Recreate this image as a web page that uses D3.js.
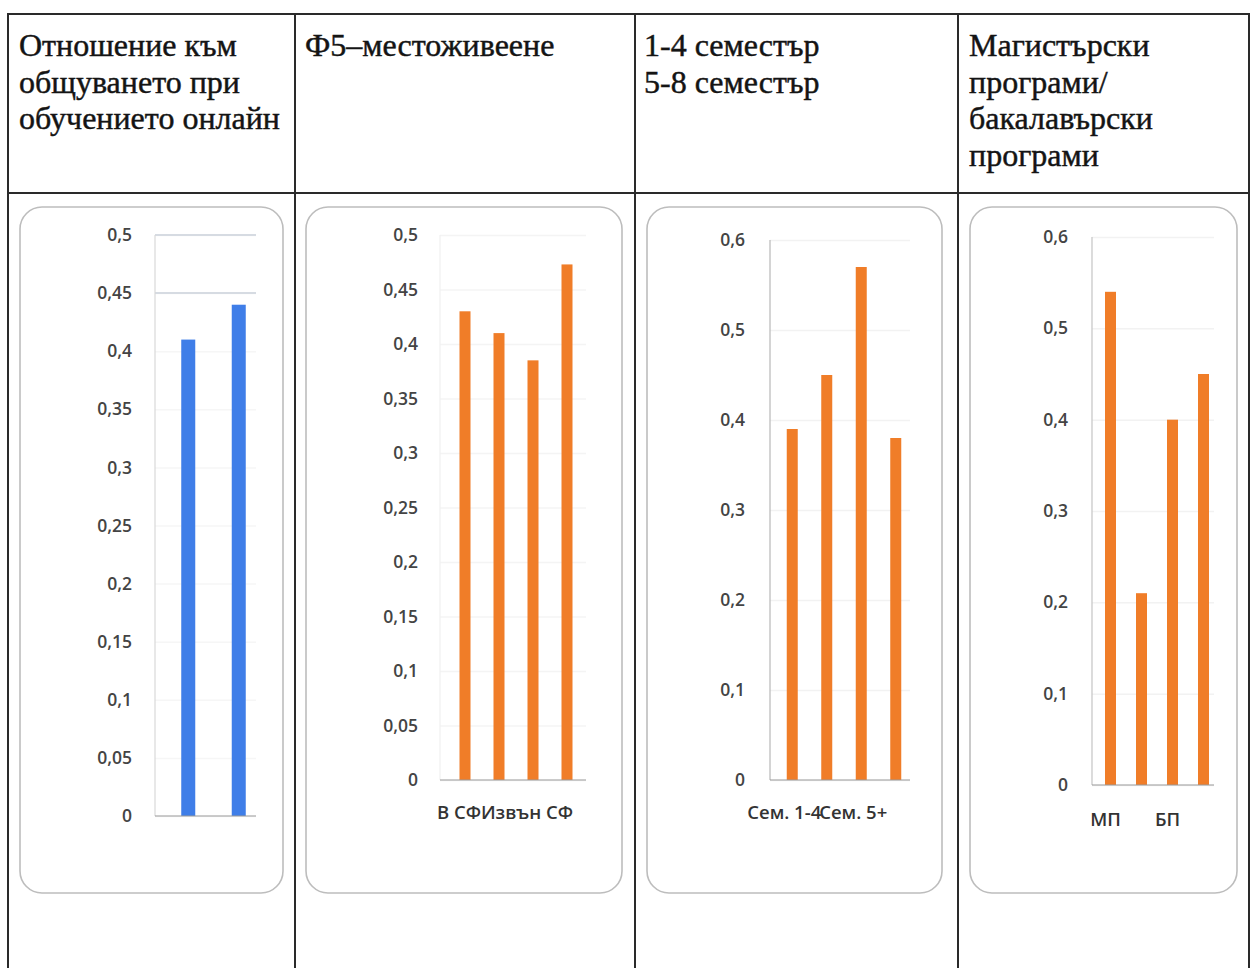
<!DOCTYPE html>
<html>
<head>
<meta charset="utf-8">
<script src="https://cdn.jsdelivr.net/npm/d3@7"></script>
<style>
  html, body { margin: 0; padding: 0; background: #fff; }
  svg { display: block; }
</style>
</head>
<body>
<svg id="chart" width="1251" height="968"></svg>
<script>
// ---------- DATA ----------
const headerCol1 = ["Отношение към", "общуването при", "обучението онлайн"];
const headerCol2 = ["Ф5–местоживеене"];
const headerCol3 = ["1-4 семестър", "5-8 семестър"];
const headerCol4 = ["Магистърски", "програми/", "бакалавърски", "програми"];

const chart1Categories = ["a", "b"];
const chart1Labels = ["", ""];
const chart1Values = [0.41, 0.44];
const chart1Ticks = [0, 0.05, 0.1, 0.15, 0.2, 0.25, 0.3, 0.35, 0.4, 0.45, 0.5];

const chart2Categories = ["a", "b", "c", "d"];
const chart2Labels = ["В СФ", "", "Извън СФ", ""];
const chart2Values = [0.43, 0.41, 0.385, 0.473];
const chart2Ticks = [0, 0.05, 0.1, 0.15, 0.2, 0.25, 0.3, 0.35, 0.4, 0.45, 0.5];

const chart3Categories = ["a", "b", "c", "d"];
const chart3Labels = ["Сем. 1-4", "", "Сем. 5+", ""];
const chart3Values = [0.39, 0.45, 0.57, 0.38];
const chart3Ticks = [0, 0.1, 0.2, 0.3, 0.4, 0.5, 0.6];

const chart4Categories = ["a", "b", "c", "d"];
const chart4Labels = ["МП", "", "БП", ""];
const chart4Values = [0.54, 0.21, 0.40, 0.45];
const chart4Ticks = [0, 0.1, 0.2, 0.3, 0.4, 0.5, 0.6];

// ---------- LAYOUT ----------
const svg = d3.select("#chart");
const W = 1251, H = 968;
const locale = d3.formatLocale({decimal: ",", thousands: " ", grouping: [3], currency: ["", ""]});
const fmt = locale.format("~g");

// table
const tableTop = 14, headerBottom = 193;
const colX = [8, 295, 635, 958, 1249];
const lineColor = "#2a2a2a";
svg.append("line").attr("x1", colX[0]).attr("x2", colX[4]).attr("y1", tableTop).attr("y2", tableTop)
  .attr("stroke", lineColor).attr("stroke-width", 2);
svg.append("line").attr("x1", colX[0]).attr("x2", colX[4]).attr("y1", headerBottom).attr("y2", headerBottom)
  .attr("stroke", lineColor).attr("stroke-width", 2);
colX.forEach(x => {
  svg.append("line").attr("x1", x).attr("x2", x).attr("y1", tableTop - 1).attr("y2", H)
    .attr("stroke", lineColor).attr("stroke-width", 2);
});

// header texts
const headers = [headerCol1, headerCol2, headerCol3, headerCol4];
const headerX = [19, 305, 644, 969];
headers.forEach((lines, i) => {
  const t = svg.append("text")
    .attr("x", headerX[i]).attr("y", 56)
    .attr("font-family", "'Liberation Serif', 'Times New Roman', serif")
    .attr("font-size", 32)
    .attr("fill", "#141414")
    .attr("stroke", "#141414").attr("stroke-width", 0.45);
  lines.forEach((ln, j) => {
    t.append("tspan").attr("x", headerX[i]).attr("dy", j === 0 ? 0 : 36.5).text(ln);
  });
});

// panels
const panels = [
  {x: 20, w: 263}, {x: 306, w: 316}, {x: 647, w: 295}, {x: 970, w: 267}
];
panels.forEach(p => {
  svg.append("rect").attr("x", p.x).attr("y", 207).attr("width", p.w).attr("height", 686)
    .attr("rx", 22).attr("ry", 22)
    .attr("fill", "#fff").attr("stroke", "#bdbdbd").attr("stroke-width", 1.6);
});

function drawChart(cfg) {
  const g = svg.append("g");
  const y = d3.scaleLinear().domain(cfg.domain).range([cfg.y0, cfg.y1]);
  const x = d3.scaleBand().domain(cfg.categories).range(cfg.barRange).paddingInner(0).paddingOuter(0);

  // faint gridlines
  g.append("g")
    .attr("transform", `translate(${cfg.frame[0]},0)`)
    .call(d3.axisLeft(y).tickValues(cfg.ticks).tickSize(-(cfg.frame[1] - cfg.frame[0])).tickFormat(""))
    .call(a => a.select(".domain").remove())
    .call(a => a.selectAll("line").attr("stroke", cfg.gridColor).attr("stroke-width", 1.5));

  // emphasised faint lines
  (cfg.strongGrid || []).forEach(v => {
    g.append("line").attr("x1", cfg.frame[0]).attr("x2", cfg.frame[1])
      .attr("y1", y(v)).attr("y2", y(v))
      .attr("stroke", "#d6dbe2").attr("stroke-width", 2);
  });

  // left axis line
  g.append("line").attr("x1", cfg.frame[0]).attr("x2", cfg.frame[0])
    .attr("y1", y(cfg.domain[1])).attr("y2", y(0))
    .attr("stroke", cfg.leftAxisColor).attr("stroke-width", 1.2);

  // y axis labels
  g.append("g")
    .attr("transform", `translate(${cfg.labelX},0)`)
    .call(d3.axisLeft(y).tickValues(cfg.ticks).tickSize(0).tickPadding(0).tickFormat(fmt))
    .call(a => a.select(".domain").remove())
    .call(a => a.selectAll("text")
      .attr("font-family", "'Open Sans', 'DejaVu Sans', sans-serif")
      .attr("font-size", 17.5).attr("font-weight", 600).attr("fill", "#444"));

  // bars
  g.selectAll("rect.bar").data(cfg.values).join("rect")
    .attr("class", "bar")
    .attr("x", (d, i) => x(cfg.categories[i]) + x.bandwidth() / 2 - cfg.barWidth / 2)
    .attr("width", cfg.barWidth)
    .attr("y", d => y(d))
    .attr("height", d => y(0) - y(d))
    .attr("fill", cfg.color);

  // baseline
  g.append("line").attr("x1", cfg.frame[0]).attr("x2", cfg.frame[1])
    .attr("y1", y(0)).attr("y2", y(0))
    .attr("stroke", "#9a9a9a").attr("stroke-width", 1.2);

  // x labels
  g.selectAll("text.xl").data(cfg.labels).join("text")
    .attr("class", "xl")
    .attr("x", (d, i) => x(cfg.categories[i]) + x.bandwidth() / 2 + cfg.xLabelDx)
    .attr("y", y(0) + cfg.xLabelDy)
    .attr("text-anchor", "middle")
    .attr("font-family", "'Open Sans', 'DejaVu Sans', sans-serif")
    .attr("font-size", 18.5).attr("font-weight", 600).attr("fill", "#333")
    .text(d => d);
}

drawChart({
  categories: chart1Categories, labels: chart1Labels, values: chart1Values, ticks: chart1Ticks,
  domain: [0, 0.5], y0: 816, y1: 235, frame: [155, 256], barRange: [163, 264], barWidth: 14,
  labelX: 132, color: "#3f7ee8", gridColor: "#f6f6f6", strongGrid: [0.45, 0.5],
  leftAxisColor: "#d9d9d9", xLabelDy: 38, xLabelDx: -5
});
drawChart({
  categories: chart2Categories, labels: chart2Labels, values: chart2Values, ticks: chart2Ticks,
  domain: [0, 0.5], y0: 780, y1: 235, frame: [440, 586], barRange: [448, 584], barWidth: 11,
  labelX: 418, color: "#f07d28", gridColor: "#f4f4f4", strongGrid: [],
  leftAxisColor: "#f0f0f0", xLabelDy: 39, xLabelDx: -6
});
drawChart({
  categories: chart3Categories, labels: chart3Labels, values: chart3Values, ticks: chart3Ticks,
  domain: [0, 0.6], y0: 780, y1: 240, frame: [770, 910], barRange: [775, 913], barWidth: 11,
  labelX: 745, color: "#f07d28", gridColor: "#f2f2f2", strongGrid: [],
  leftAxisColor: "#b8b8b8", xLabelDy: 39, xLabelDx: -8
});
drawChart({
  categories: chart4Categories, labels: chart4Labels, values: chart4Values, ticks: chart4Ticks,
  domain: [0, 0.6], y0: 785, y1: 237, frame: [1092, 1214], barRange: [1095, 1219], barWidth: 11,
  labelX: 1068, color: "#f07d28", gridColor: "#f2f2f2", strongGrid: [],
  leftAxisColor: "#c4c4c4", xLabelDy: 41, xLabelDx: -5
});
</script>
</body>
</html>
